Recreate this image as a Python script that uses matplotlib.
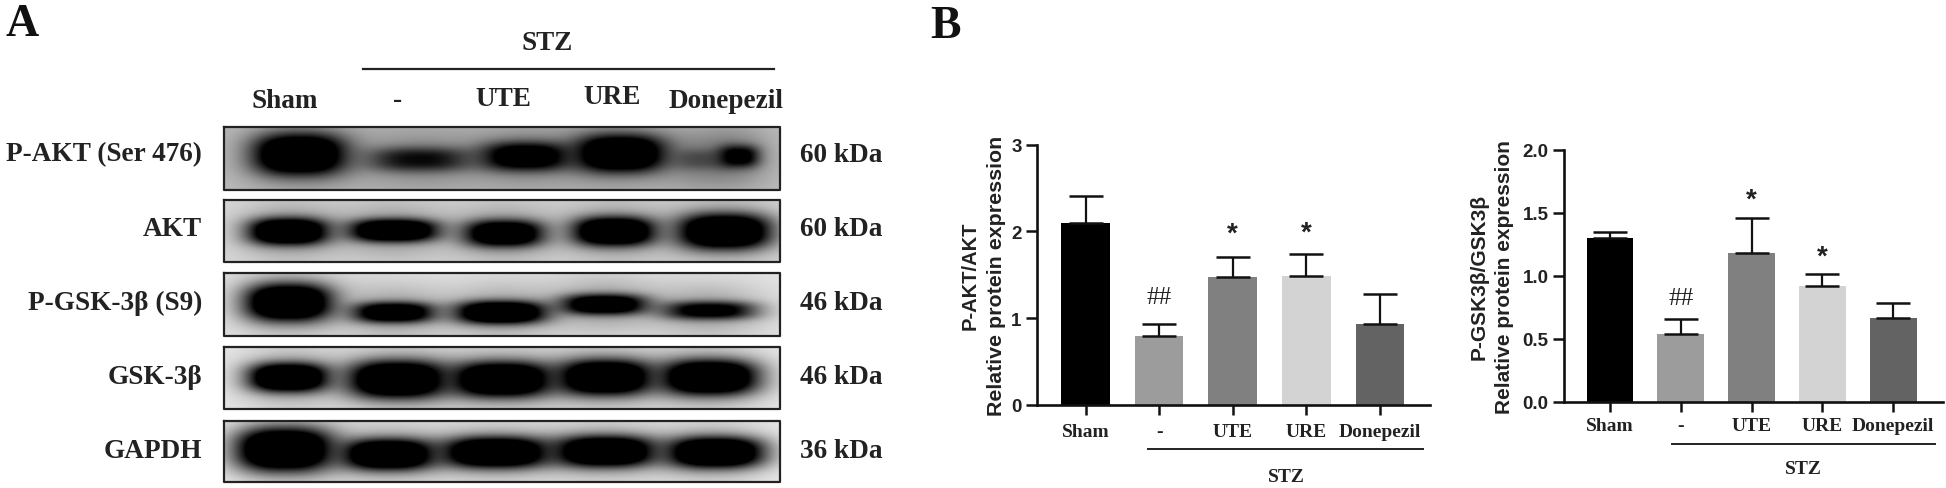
#!/usr/bin/env python3
import numpy as np
import matplotlib
matplotlib.use("Agg")
import matplotlib.pyplot as plt

SERIF = "Liberation Serif"
SANS = "Liberation Sans"

W, H = 1946, 489

groups = ["Sham", "-", "UTE", "URE", "Donepezil"]
bar_colors = ["#000000", "#9c9c9c", "#808080", "#d3d3d3", "#636363"]

akt_vals = [2.10, 0.79, 1.47, 1.49, 0.93]
akt_errs = [0.31, 0.14, 0.24, 0.25, 0.35]
akt_marks = ["", "##", "*", "*", ""]
akt_mark_y = [0, 1.24, 1.97, 1.99, 0]

gsk_vals = [1.30, 0.54, 1.18, 0.915, 0.667]
gsk_errs = [0.05, 0.116, 0.275, 0.10, 0.12]
gsk_marks = ["", "##", "*", "*", ""]
gsk_mark_y = [0, 0.82, 1.60, 1.15, 0]

# blot panels: label, size, top and bottom edge, label height, background grey
blot_names = ["P-AKT (Ser 476)", "AKT", "P-GSK-3β (S9)", "GSK-3β", "GAPDH"]
blot_sizes = ["60 kDa", "60 kDa", "46 kDa", "46 kDa", "36 kDa"]
blot_top = [128, 201, 274, 348, 422]
blot_bot = [191, 263, 337, 410, 483]
blot_label_y = [155, 230, 303, 377, 451]
blot_bg = [0.74, 0.86, 0.90, 0.92, 0.94]

# bands, one row per lane: centre x, centre y, half width, half height, strength
akt_p_bands = [[300, 155, 44, 20, 1.0], [420, 160, 50, 12, 0.50], [526, 157, 43, 14, 0.80],
               [620, 154, 43, 18, 1.0], [738, 157, 20, 11, 0.68], [700, 160, 26, 10, 0.20]]
akt_bands = [[289, 232, 38, 13, 1.0], [394, 231, 42, 11, 1.0], [504, 234, 38, 13, 0.9],
             [614, 232, 39, 14, 1.0], [724, 232, 44, 17, 1.0]]
gsk_p_bands = [[289, 303, 41, 18, 1.0], [394, 313, 39, 10, 0.85], [501, 313, 43, 11, 1.0],
               [604, 305, 41, 10, 0.85], [709, 311, 45, 9, 0.66]]
gsk_bands = [[289, 378, 38, 14, 1.0], [398, 380, 47, 18, 1.0], [502, 380, 48, 17, 1.0],
             [605, 378, 45, 17, 1.0], [709, 378, 46, 17, 1.0]]
gapdh_bands = [[285, 450, 46, 21, 1.0], [389, 455, 44, 15, 1.0], [496, 453, 51, 15, 1.0],
               [605, 452, 48, 15, 1.0], [715, 453, 46, 15, 1.0]]
all_bands = [akt_p_bands, akt_bands, gsk_p_bands, gsk_bands, gapdh_bands]


def blot_image(top, bot, bands, bg):
    """grey image of one blot strip, 0 is black"""
    xs, ys = np.meshgrid(np.arange(226, 779), np.arange(top, bot))
    light = np.ones(xs.shape)
    for cx, cy, hw, hh, s in bands:
        d = (np.abs(xs - cx) / hw) ** 2.6 + (np.abs(ys - cy) / hh) ** 2.6
        # the film saturates, so the core of a strong band stays flat black
        light *= 1 - np.minimum(1.0, 1.9 * s * np.exp(-d))
        d2 = (np.abs(xs - cx) / (hw + 14)) ** 2 + (np.abs(ys - cy) / (hh + 18)) ** 2
        light *= 1 - 0.3 * np.exp(-d2)
    return np.clip(bg * light, 0, 1)


def bar_panel(fig, box, vals, errs, marks, mark_y, ylim, yticks, yfmt, xlim, width, xpad):
    x0, x1, ytop, ybot = box
    ax = fig.add_axes([x0 / W, 1 - ybot / H, (x1 - x0) / W, (ybot - ytop) / H])
    pos = np.arange(len(vals))
    ax.bar(pos, vals, width=width, color=bar_colors)
    for p, v, e in zip(pos, vals, errs):
        ax.errorbar(p, v, yerr=[[0], [e]], color="#111111", elinewidth=1.6,
                    capsize=12, capthick=1.8, zorder=1)
    for p, m, my in zip(pos, marks, mark_y):
        if m == "*":
            ax.text(p, my, m, ha="center", va="center", fontsize=20,
                    family=SANS, fontweight="bold", color="#222222")
        elif m:
            ax.text(p, my, m, ha="center", va="center", fontsize=18,
                    family=SERIF, color="#222222")
    ax.set_xlim(xlim)
    ax.set_ylim(ylim)
    ax.set_yticks(yticks)
    ax.set_yticklabels([yfmt % t for t in yticks], family=SANS, fontweight="bold",
                       fontsize=13.5, color="#222222")
    ax.set_xticks(pos)
    ax.set_xticklabels(groups, family=SERIF, fontweight="bold", fontsize=14, color="#222222")
    ax.tick_params(axis="both", width=1.8, length=8, color="#111111", pad=3)
    ax.tick_params(axis="x", length=7, pad=xpad)
    for side in ["top", "right"]:
        ax.spines[side].set_visible(False)
    for side in ["left", "bottom"]:
        ax.spines[side].set_linewidth(1.9)
        ax.spines[side].set_color("#111111")
    ax.patch.set_alpha(0)
    return ax


fig = plt.figure(figsize=(W / 100, H / 100), dpi=100)

# overlay in pixel coordinates, holds panel A and the free text
ov = fig.add_axes([0, 0, 1, 1])
ov.axis("off")

for i, name in enumerate(blot_names):
    top, bot = blot_top[i], blot_bot[i]
    ov.imshow(blot_image(top, bot, all_bands[i], blot_bg[i]), cmap="gray", vmin=0, vmax=1,
              aspect="auto", extent=(225, 779, bot, top), interpolation="bilinear")
    ov.plot([224, 780, 780, 224, 224], [top, top, bot, bot, top], color="#222222", lw=1.6)
    ov.text(202, blot_label_y[i], name, ha="right", va="center", family=SERIF,
            fontweight="bold", fontsize=19.6, color="#222222")
    ov.text(800, blot_label_y[i], blot_sizes[i], ha="left", va="center", family=SERIF,
            fontweight="bold", fontsize=19.6, color="#222222")

lane_x = [285, 398, 503, 612, 726]
lane_y = [101, 101, 100, 98, 101]
for g, lx, ly in zip(groups, lane_x, lane_y):
    ov.text(lx, ly, g, ha="center", va="center", family=SERIF, fontweight="bold",
            fontsize=19.6, color="#222222")
ov.plot([363, 774], [70, 70], color="#222222", lw=1.6)
ov.text(547, 43, "STZ", ha="center", va="center", family=SERIF, fontweight="bold",
        fontsize=19.5, color="#222222")

ov.text(5, 25, "A", ha="left", va="center", family=SERIF, fontweight="bold", fontsize=33, color="#111111")
ov.text(930, 27, "B", ha="left", va="center", family=SERIF, fontweight="bold", fontsize=33, color="#111111")

# y titles and STZ brackets under the bar charts
ylabel_kw = dict(rotation=90, ha="center", va="center", family=SANS, fontweight="bold", color="#222222")
ov.text(970, 276, "P-AKT/AKT", fontsize=14.5, **ylabel_kw)
ov.text(997, 276, "Relative protein expression", fontsize=15.4, **ylabel_kw)
ov.text(1479, 277, "P-GSK3β/GSK3β", fontsize=15, **ylabel_kw)
ov.text(1504, 277, "Relative protein expression", fontsize=15, **ylabel_kw)

ov.plot([1148, 1423], [450, 450], color="#222222", lw=1.4)
ov.text(1286, 477, "STZ", ha="center", va="center", family=SERIF, fontweight="bold", fontsize=14, color="#222222")
ov.plot([1672, 1935], [445, 445], color="#222222", lw=1.4)
ov.text(1803, 470, "STZ", ha="center", va="center", family=SERIF, fontweight="bold", fontsize=14, color="#222222")

ov.set_xlim(0, W)
ov.set_ylim(H, 0)

bar_panel(fig, (1037, 1430, 145.7, 406), akt_vals, akt_errs, akt_marks, akt_mark_y,
          (0, 3), [0, 1, 2, 3], "%d", (-0.66, 4.68), 0.66, 6)
bar_panel(fig, (1564, 1942.7, 150.7, 402.7), gsk_vals, gsk_errs, gsk_marks, gsk_mark_y,
          (0, 2), [0, 0.5, 1.0, 1.5, 2.0], "%.1f", (-0.65, 4.7), 0.66, 4)

fig.savefig("out.png", dpi=100)
